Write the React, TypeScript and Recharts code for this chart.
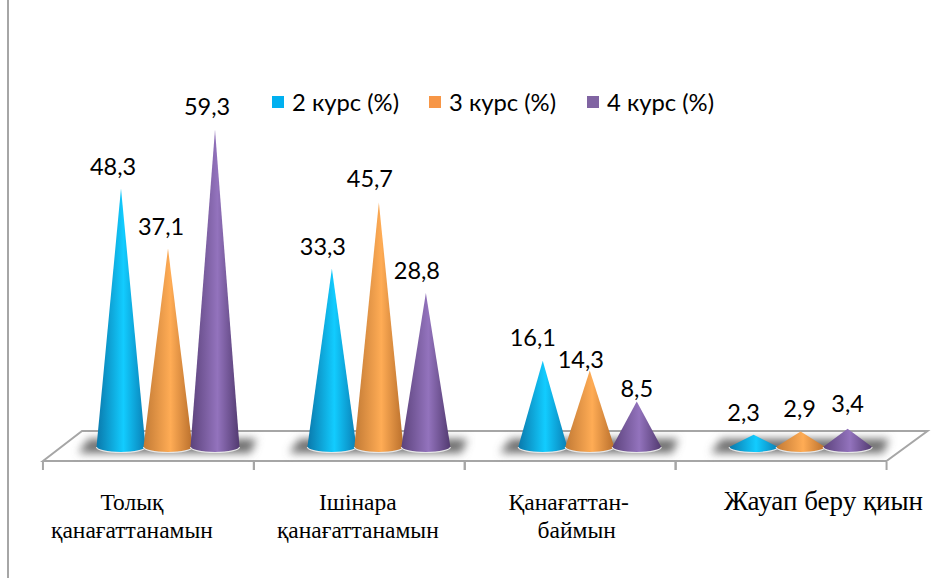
import { Bar, BarChart, LabelList, Legend, ReferenceArea, XAxis, YAxis } from 'recharts';

const categories = ['Толық|қанағаттанамын', 'Ішінара|қанағаттанамын', 'Қанағаттан-|баймын', 'Жауап беру қиын'];
const course2 = [48.3, 33.3, 16.1, 2.3];
const course3 = [37.1, 45.7, 14.3, 2.9];
const course4 = [59.3, 28.8, 8.5, 3.4];

const data = categories.map((name, i) => ({
  name,
  course2: course2[i],
  course3: course3[i],
  course4: course4[i],
}));

// label nudges, [dx, dy] from the apex of each cone
const nudges2 = [[-8, -22], [-9, -22], [-10, -23], [-10, -22]];
const nudges3 = [[-7, -22], [-9, -23], [-9, -10], [-1, -22]];
const nudges4 = [[-8, -23], [-9, -22], [0, -13], [0, -25]];

// category text offset from the cone group centre
const tickShift = [[-36, -36], [-21, -21], [-21, -13], [23, 23]];
const tickSize = [23.5, 23.5, 23.5, 27];

const SERIF = '"Liberation Serif", serif';
const SANS = 'Lato, sans-serif';
const DEPTH = 19.5;

function Cone({ x, y, width, height, fill }: any) {
  const cx = x + width / 2;
  const base = y + height;
  const rx = width / 2 + 1;
  const ry = 5.5;
  return (
    <g>
      <path
        d={`M${cx} ${y} L${cx + rx} ${base} A${rx} ${ry} 0 0 1 ${cx - rx} ${base} Z`}
        fill={fill}
      />
      <path d={`M${cx + rx} ${base} A${rx} ${ry} 0 0 1 ${cx - rx} ${base}`} fill="none" stroke="#e6e6e6" strokeWidth={1.2} />
    </g>
  );
}

function Floor({ x, y, width, height }: any) {
  const bottom = y + height;
  const band = width / 4;
  const left = x - DEPTH;
  const right = x + width - DEPTH;
  return (
    <g>
      <path
        d={`M${left} ${bottom} L${left + 39} ${y} L${right + 41} ${y} L${right} ${bottom} Z`}
        fill="#fff"
        stroke="#a6a6a6"
        strokeWidth={2}
      />
      {categories.map((c, i) => {
        const sx = x + band * i;
        return (
          <path
            key={c}
            d={`M${sx + 16} ${y + 22} L${sx + 26} ${y + 8} L${sx + 194} ${y + 8} L${sx + 188} ${y + 22} Z`}
            fill="#6e6e6e"
            filter="url(#floorBlur)"
          />
        );
      })}
    </g>
  );
}

function CategoryTick({ x, y, payload, index }: any) {
  const lines = String(payload.value).split('|');
  const fx = x - DEPTH;
  return (
    <g>
      <line x1={fx - 105.5} x2={fx - 105.5} y1={y - 7} y2={y + 1} stroke="#a6a6a6" strokeWidth={2} />
      <line x1={fx + 105.5} x2={fx + 105.5} y1={y - 7} y2={y + 1} stroke="#a6a6a6" strokeWidth={2} />
      {lines.map((line, i) => (
        <text
          key={line}
          x={x + tickShift[index][i]}
          y={510 + i * 28}
          textAnchor="middle"
          fontFamily={SERIF}
          fontSize={tickSize[index]}
          fill="#000"
        >
          {line}
        </text>
      ))}
    </g>
  );
}

const valueLabel = (nudges: number[][]) => ({ x, y, width, value, index }: any) => (
  <text
    x={x + width / 2 + nudges[index][0]}
    y={y + nudges[index][1] + 8}
    textAnchor="middle"
    fontFamily={SANS}
    fontSize={23.5}
    fill="#000"
  >
    {String(value).replace('.', ',')}
  </text>
);

function CourseLegend({ payload }: any) {
  const starts = [272, 429, 587];
  return (
    <div>
      {(payload ?? []).map((item: any, i: number) => (
        <div
          key={item.value}
          style={{ position: 'absolute', left: starts[i], top: 0, display: 'flex', alignItems: 'center', whiteSpace: 'nowrap' }}
        >
          <span style={{ width: 12, height: 12, background: item.color, marginRight: 8 }} />
          <span style={{ fontFamily: SANS, fontSize: 23.8, color: '#000' }}>{item.value}</span>
        </div>
      ))}
    </div>
  );
}

export default function App() {
  return (
    <div style={{ position: 'absolute', left: 0, top: 0, width: 948, height: 578, background: '#fff' }}>
      <div style={{ position: 'absolute', left: 7, top: 0, width: 2, height: 578, background: '#a6a6a6' }} />
      <BarChart
        width={948}
        height={578}
        data={data}
        margin={{ top: 19, right: 42, bottom: 87, left: 62.5 }}
        barCategoryGap={35}
        barGap={0}
      >
        <defs>
          <filter id="floorBlur" x="-20%" y="-60%" width="140%" height="220%">
            <feGaussianBlur stdDeviation="4" />
          </filter>
          <linearGradient id="coneBlue" x1="0" y1="0" x2="1" y2="0">
            <stop offset="0" stopColor="#0a78ab" />
            <stop offset="0.55" stopColor="#12ccff" />
            <stop offset="1" stopColor="#0a7fb5" />
          </linearGradient>
          <linearGradient id="coneOrange" x1="0" y1="0" x2="1" y2="0">
            <stop offset="0" stopColor="#c27a35" />
            <stop offset="0.55" stopColor="#ffac55" />
            <stop offset="1" stopColor="#b96f2c" />
          </linearGradient>
          <linearGradient id="conePurple" x1="0" y1="0" x2="1" y2="0">
            <stop offset="0" stopColor="#5c437c" />
            <stop offset="0.55" stopColor="#9373bd" />
            <stop offset="1" stopColor="#523a70" />
          </linearGradient>
        </defs>
        <XAxis dataKey="name" axisLine={false} tickLine={false} tick={<CategoryTick />} interval={0} />
        <YAxis hide domain={[-2.62, 80]} />
        <ReferenceArea
          x1={categories[0]}
          x2={categories[3]}
          y1={-2.62}
          y2={3}
          ifOverflow="visible"
          shape={<Floor />}
        />
        <Legend
          verticalAlign="middle"
          content={<CourseLegend />}
          wrapperStyle={{ position: 'absolute', left: 0, top: 88, width: 948, height: 30 }}
        />
        <Bar dataKey="course2" name="2 курс (%)" fill="#00b0f0" shape={(p: any) => <Cone {...p} fill="url(#coneBlue)" />} isAnimationActive={false}>
          <LabelList dataKey="course2" content={valueLabel(nudges2)} />
        </Bar>
        <Bar dataKey="course3" name="3 курс (%)" fill="#f79646" shape={(p: any) => <Cone {...p} fill="url(#coneOrange)" />} isAnimationActive={false}>
          <LabelList dataKey="course3" content={valueLabel(nudges3)} />
        </Bar>
        <Bar dataKey="course4" name="4 курс (%)" fill="#8064a2" shape={(p: any) => <Cone {...p} fill="url(#conePurple)" />} isAnimationActive={false}>
          <LabelList dataKey="course4" content={valueLabel(nudges4)} />
        </Bar>
      </BarChart>
    </div>
  );
}
